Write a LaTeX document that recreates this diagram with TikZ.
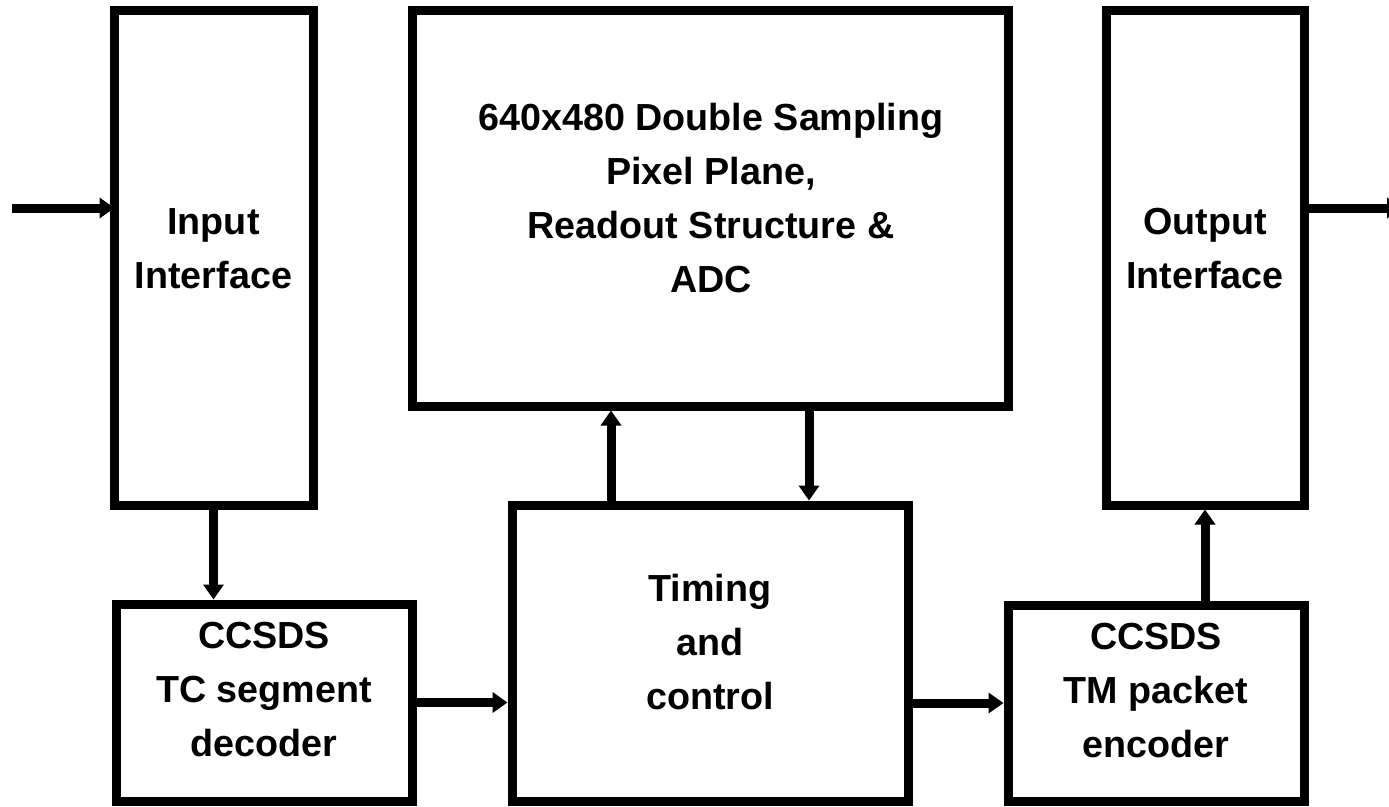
\documentclass[tikz,border=0pt]{standalone}
\usepackage{fontspec}
\setmainfont{Liberation Sans}
\usetikzlibrary{arrows.meta,calc}
\begin{document}
\begin{tikzpicture}[x=1pt,y=-1pt,
  blk/.style={draw=black,line width=9pt,rectangle,inner sep=0pt,fill=none},
  txt/.style={align=center,inner sep=0pt,font=\fontsize{37.7}{54}\selectfont\bfseries},
  conn/.style={line width=9pt,-{Triangle[length=15pt,width=20pt]}}]
\useasboundingbox (0,0) rectangle (1389,806);
\clip (0,0) rectangle (1389,806);
\fill[white] (0,0) rectangle (1389,806);
% boxes
\node[blk,minimum width=199pt,minimum height=495pt] (in)  at (213.5,257.5) {};
\node[blk,minimum width=596pt,minimum height=396pt] (big) at (710,208) {};
\node[blk,minimum width=198pt,minimum height=495pt] (out) at (1205,257.5) {};
\node[blk,minimum width=296pt,minimum height=197pt] (tc)  at (264,702.5) {};
\node[blk,minimum width=396pt,minimum height=296pt] (tim) at (710,653) {};
\node[blk,minimum width=296pt,minimum height=196pt] (tm)  at (1156,703) {};
% texts
\node[txt] (inT)  at (213.5,249) {Input\\Interface};
\node[txt] (bigT) at (711,198) {640x480 Double Sampling\\Pixel Plane,\\Readout Structure \&\\ADC};
\node[txt] (outT) at (1205,249) {Output\\Interface};
\node[txt] (tcT)  at (264,690) {CCSDS\\TC segment\\decoder};
\node[txt] (timT) at (710,642.5) {Timing\\and\\control};
\node[txt] (tmT)  at (1156,691) {CCSDS\\TM packet\\encoder};
% free ends
\coordinate (src) at (12,208);
\coordinate (dst) at (1402,208);
% connectors
\draw[conn,shorten >=-5pt] (src) -- (in.west |- src);
\draw[conn] (out.east |- dst) -- (dst);
\draw[conn] (in.south) -- (in.south |- tc.north);
\draw[conn] (tc.east) -- (tim.west |- tc.east);
\draw[conn] (tim.east |- tm.west) -- (tm.west);
\draw[conn] (tm.north -| out.south) -- (out.south);
\draw[conn] ([xshift=-99pt]tim.north) -- ([xshift=-99pt]tim.north |- big.south);
\draw[conn] ([xshift=99pt]tim.north |- big.south) -- ([xshift=99pt]tim.north);
\end{tikzpicture}
\end{document}
